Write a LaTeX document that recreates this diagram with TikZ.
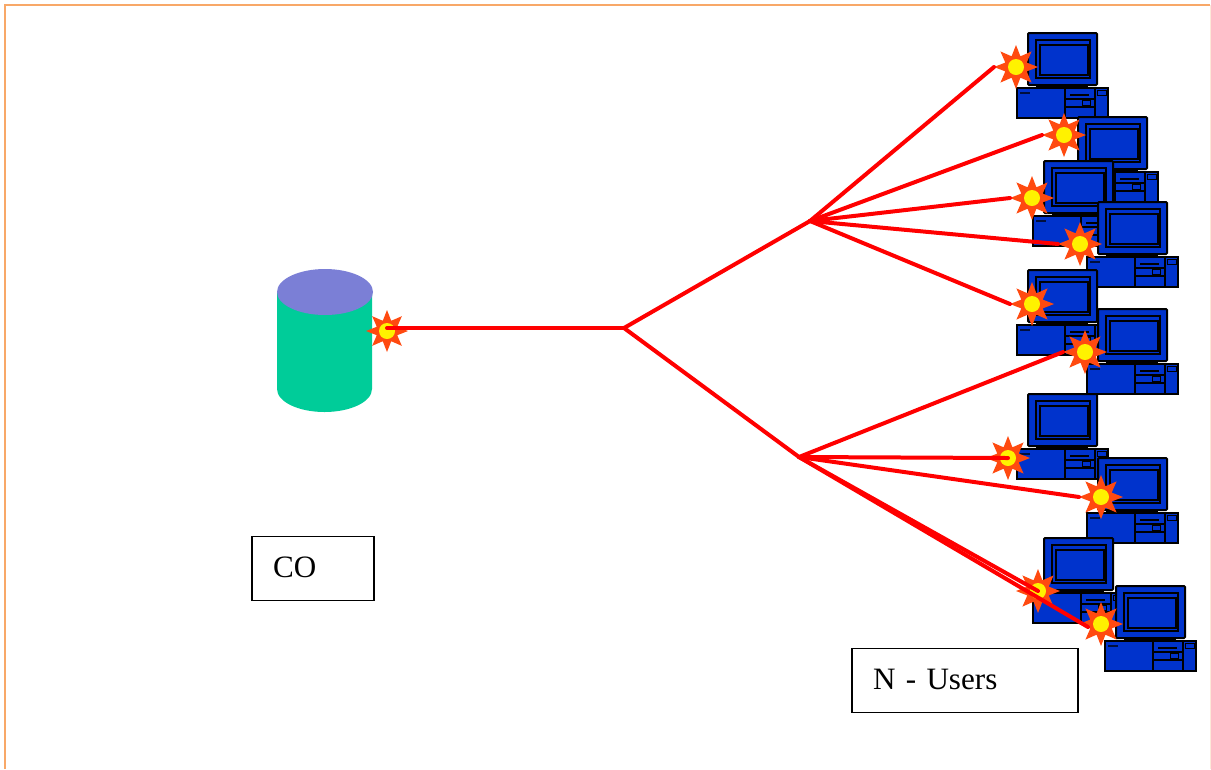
\documentclass[tikz,border=0pt]{standalone}
\usepackage{fontspec}
\setmainfont{Liberation Serif}
\usetikzlibrary{positioning,shapes}
\definecolor{pcblue}{HTML}{0033CC}
\definecolor{burst}{HTML}{FF4A10}
\definecolor{dbgreen}{HTML}{00CC99}
\definecolor{dbtop}{HTML}{7B7FD6}
\definecolor{frameo}{HTML}{F8A868}
\tikzset{st/.style={star,star points=8,star point ratio=1.9,fill=burst,minimum size=0.88cm,inner sep=0,outer sep=0,
            path picture={\fill[yellow] (path picture bounding box.center) circle (8);}},
         hub/.style={coordinate},
         wire/.style={red,line width=0.08cm,line cap=round},
         lbl/.style={draw,line width=0.035cm,inner xsep=0.42cm,inner ysep=0,minimum height=1.28cm,align=left,font=\fontsize{17.7}{20}\selectfont},
         pc/.pic={
            \draw[fill=pcblue,line width=0.04cm,rounded corners=0.02cm] (0,0) rectangle (69,52);
            \draw[line width=0.04cm] (8,7) rectangle (62,45);
            \draw[line width=0.04cm] (12,12) rectangle (60,42);
            \fill (8,52) rectangle (60,55);
            \draw[fill=pcblue,line width=0.04cm] (-11,55) rectangle (80,85);
            \draw[line width=0.03cm] (37,55) -- (37,85) (67,55) -- (67,85);
            \draw[line width=0.03cm] (37,66) -- (67,66) (37,74) -- (67,74);
            \fill (42,61) rectangle (61,63);
            \draw[line width=0.02cm] (54,67) rectangle (62,72);
            \fill[black!70!pcblue] (-8,59) rectangle (2,61);
            \draw[line width=0.02cm] (69,57) rectangle (78,62);
         }}

\begin{document}
\begin{tikzpicture}[x=0.02cm,y=-0.02cm]
\useasboundingbox (0,0) rectangle (1211,769);
\draw[frameo,line width=0.05cm] (5,769) -- (5,5) -- (1210,5);
\draw[frameo!25,line width=0.02cm] (1210,5) -- (1210,769);
% CO
\fill[dbgreen] (277,292) -- (372,292) -- (372,389) arc (0:180:47.5 and 23) -- cycle;
\fill[dbtop] (325,292) ellipse (48 and 23);
\node[lbl,text width=1.6cm] at (313,568.5)(co){\raisebox{1pt}{CO}};
\node[lbl,text width=3.68cm] at (965,680.5)(users){\raisebox{1pt}{N - Users}};
% users
\pic at (1028,33) {pc};
\pic at (1078,117) {pc};
\pic at (1044,161) {pc};
\pic at (1098,202) {pc};
\pic at (1028,270) {pc};
\pic at (1098,309) {pc};
\pic at (1028,394) {pc};
\pic at (1098,458) {pc};
\pic at (1044,538) {pc};
\pic at (1116,586) {pc};
\node[hub] at (624,328)(h0){};
\node[hub] at (810,221)(h1){};
\node[hub] at (799,457)(h2){};
\node[hub] at (387,328)(e0){};
\node[hub] at (1088,627)(e10){};
\node[st,minimum size=0.84cm] at (387,331)(s0){};
\node[st] at (1016,67)(s1){};
\node[st] at (1064,135)(s2){};
\node[st] at (1032,198)(s3){};
\node[st] at (1080,244)(s4){};
\node[st] at (1032,304)(s5){};
\node[st] at (1085,352)(s6){};
\node[st] at (1008,458)(s7){};
\node[st] at (1101,497)(s8){};
\node[st] at (1038,591)(s9){};
\node[st] at (1101,624)(s10){};
\draw[wire] (e0) edge (h0);
\draw[wire] (h0) edge (h1);
\draw[wire] (h0) edge (h2);
\draw[wire] (h1) edge (s1.west);
\draw[wire] (h1) edge (s2.west);
\draw[wire] (h1) edge (s3.west);
\draw[wire] (h1) edge (s4.west);
\draw[wire] (h1) edge (s5.west);
\draw[wire] (h2) edge (s6.west);
\draw[wire] (h2) edge (s7.center);
\draw[wire] (h2) edge (s8.west);
\draw[wire] (h2) edge (s9.center);
\draw[wire] (h2) edge (e10);
\end{tikzpicture}
\end{document}
